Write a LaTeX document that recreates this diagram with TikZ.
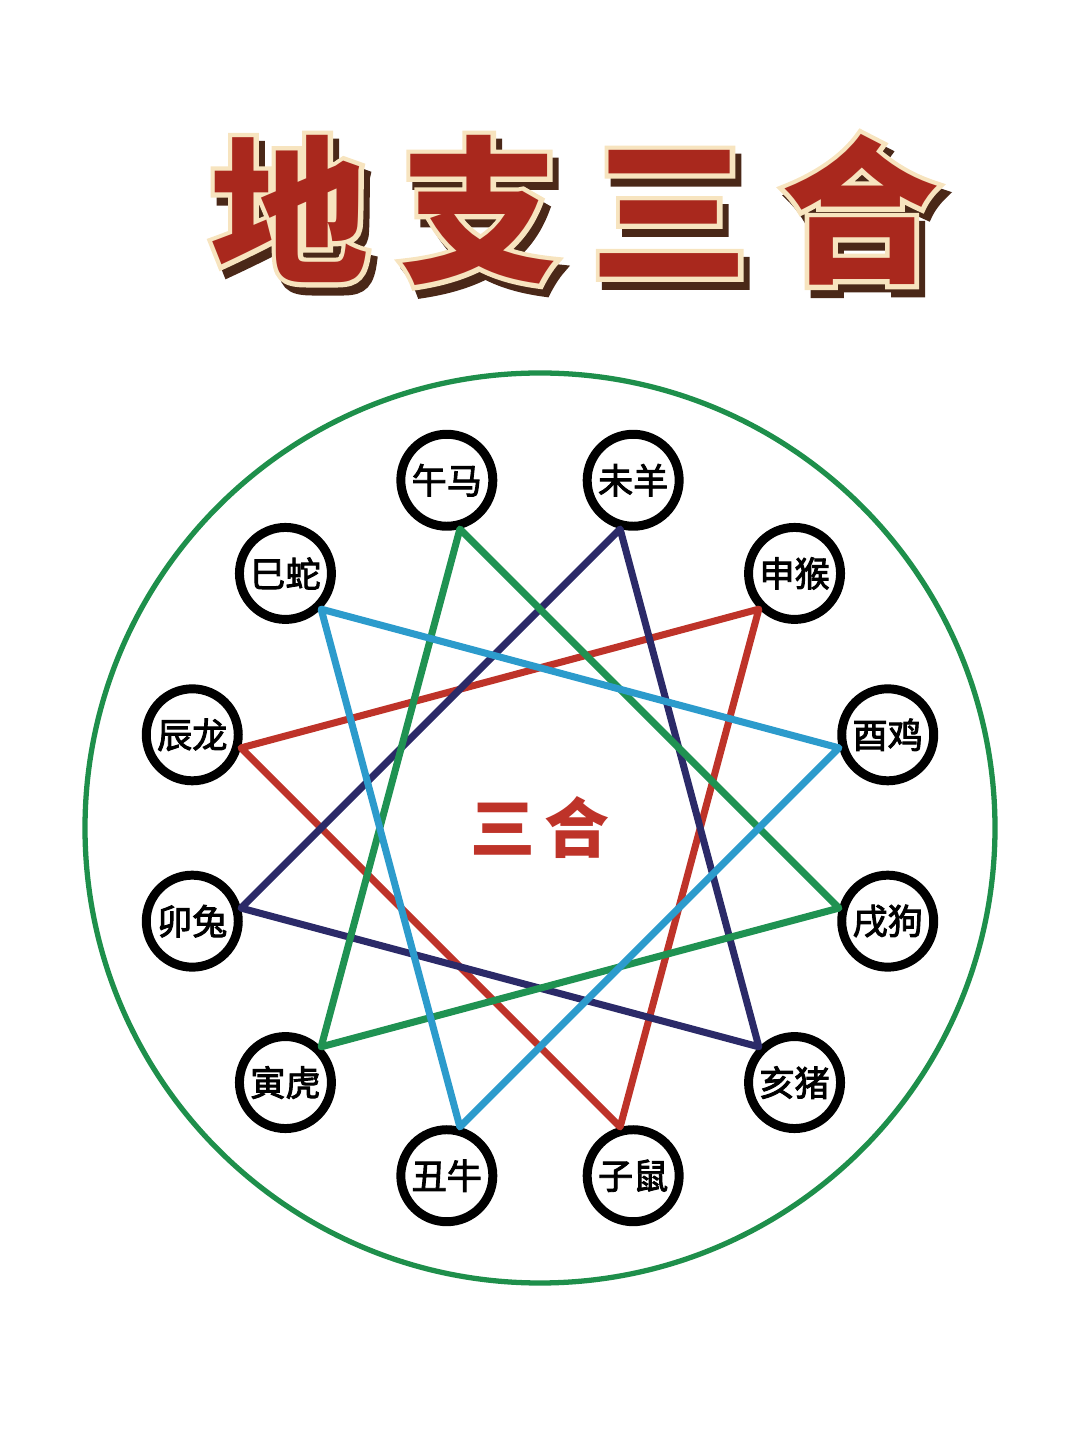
\documentclass[tikz,border=0pt]{standalone}
\usepackage{fontspec}
\newfontfamily\cjk{Noto Sans CJK SC}
\usetikzlibrary{calc}
\definecolor{shuired}{HTML}{BE3329}
\definecolor{muinavy}{HTML}{2B2A68}
\definecolor{huogreen}{HTML}{1F9252}
\definecolor{jincyan}{HTML}{2C9BCC}
\definecolor{ringgreen}{HTML}{1E8F4B}
\definecolor{titlered}{HTML}{A9281D}
\definecolor{titlecream}{HTML}{F7E4BF}
\definecolor{titleshade}{HTML}{4A2818}
\newcommand\titlechars{地\hskip0.32cm支\hskip0.32cm三\hskip0.32cm合}
\tikzset{
  zhi/.style={circle,draw=black,fill=white,line width=2.55pt,minimum size=0.92cm,
    inner sep=0pt,font=\cjk\addfontfeatures{FakeBold=2.6}\fontsize{10}{10}\selectfont},
  sanhe/.style={line width=2pt,line join=round},
  titlefont/.style={inner sep=0pt,font=\cjk\bfseries\fontsize{45}{45}\selectfont},
  titlerim/.style={inner sep=0pt,font=\cjk\bfseries\addfontfeatures{FakeBold=6}\fontsize{45}{45}\selectfont}
}
\begin{document}
\begin{tikzpicture}
  \useasboundingbox (0,0) rectangle (10.8,14.4);
  \def\rr{3.6}   % ring of the branches
  % title: shadow, cream rim, red letters
  \coordinate (tpos) at (5.75,12.3);
  \node[titlerim,text=titleshade] (shade) at ($(tpos)+(0.06,-0.08)$) {\titlechars};
  \node[titlerim,text=titlecream] (rim) at (tpos) {\titlechars};
  \node[titlefont,text=titlered] (title) at (tpos) {\titlechars};
  % outer ring
  \coordinate (mid) at (5.4,6.12);
  \draw[ringgreen,line width=1.5pt] (mid) circle (4.55);
  \node[text=shuired,font=\cjk\bfseries\fontsize{18.5}{18.5}\selectfont] (heart) at (mid) {三\hskip0.08cm合};
  % the twelve branches
  \foreach \name/\txt [count=\i from 0, evaluate=\i as \a using 105-30*\i, evaluate=\i as \b using 285-30*\i]
    in {wu/午马, wei/未羊, shen/申猴, you/酉鸡, xu/戌狗, hai/亥猪, zi/子鼠, chou/丑牛, yin/寅虎, mao/卯兔, chen/辰龙, si/巳蛇} {
    \node[zhi] (\name) at ($(mid)+(\a:\rr)$) {\txt};
    \coordinate (\name-p) at (\name.\b);
  }
  % the four triangles
  \draw[sanhe,shuired] (chen-p) -- (shen-p) -- (zi-p) -- cycle;
  \draw[sanhe,muinavy] (mao-p) -- (wei-p) -- (hai-p) -- cycle;
  \draw[sanhe,huogreen] (yin-p) -- (wu-p) -- (xu-p) -- cycle;
  \draw[sanhe,jincyan] (si-p) -- (you-p) -- (chou-p) -- cycle;
\end{tikzpicture}
\end{document}
